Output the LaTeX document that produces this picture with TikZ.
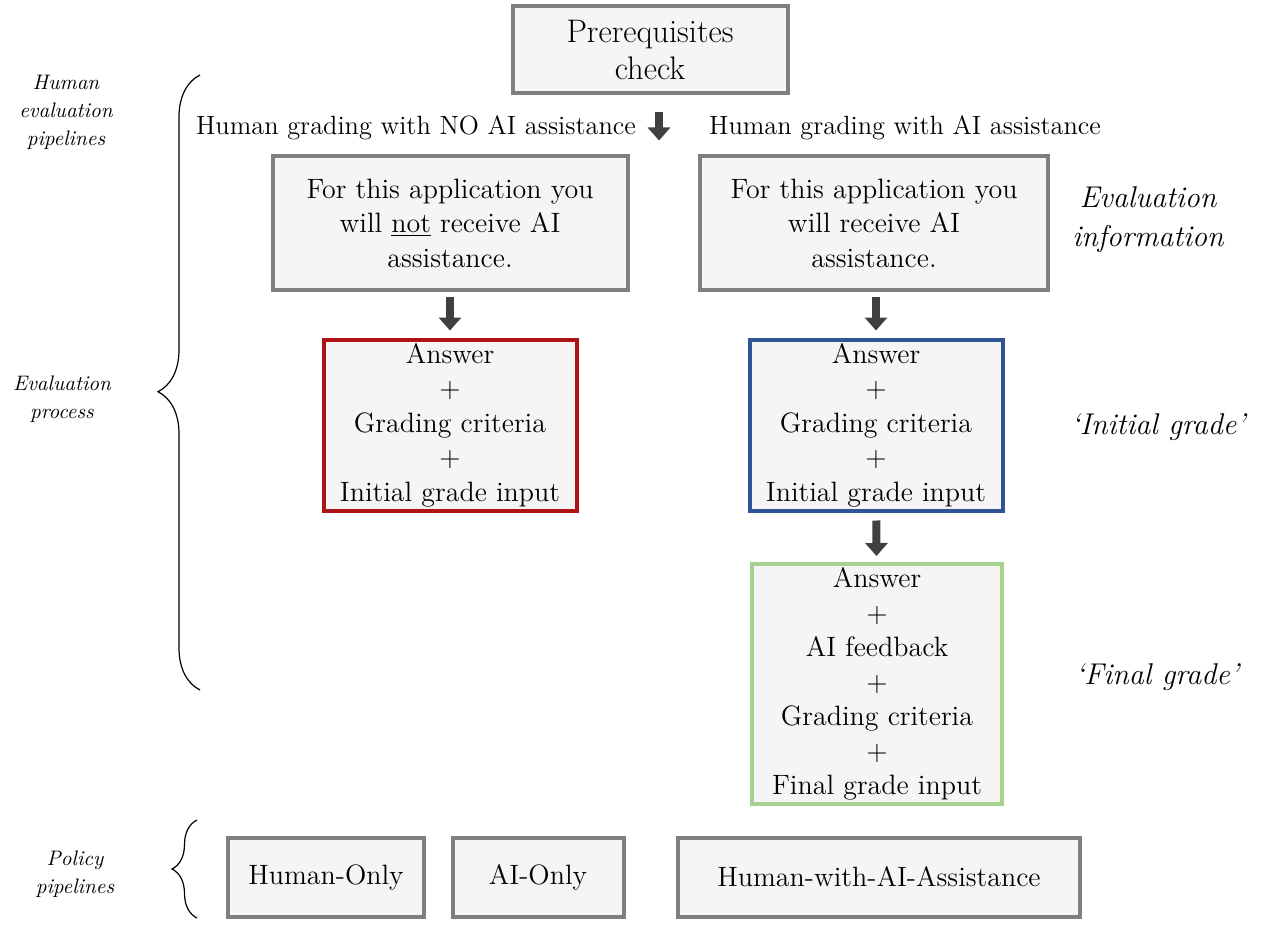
\documentclass[tikz,border=0pt]{standalone}
\usepackage{xcolor}
\usepackage{tikz}
\usetikzlibrary{positioning, arrows.meta, decorations.pathreplacing}
\definecolor{boxgray}{HTML}{7F7F7F}
\definecolor{boxfill}{HTML}{F5F5F5}
\definecolor{initred}{HTML}{AE1414}
\definecolor{initblue}{HTML}{2F5597}
\definecolor{finalgreen}{HTML}{A9D18E}
\definecolor{arrowgray}{HTML}{404040}

\tikzset{
  card/.style={draw=boxgray, fill=boxfill, line width=2pt, align=center,
               inner sep=0pt, font=\fontsize{14}{17.25}\selectfont},
  fatarrow/.style={draw=arrowgray, line width=4pt,
                   -{Triangle[width=11pt,length=6.5pt]}},
  armlabel/.style={font=\fontsize{13.2}{16}\selectfont},
  sidenote/.style={font=\itshape\fontsize{10.5}{14}\selectfont, align=center},
  stagenote/.style={font=\itshape\fontsize{15}{19.5}\selectfont, align=center},
  pipebrace/.style={decorate, line width=0.6pt},
}

\begin{document}
\begin{tikzpicture}[x=0.5pt, y=-0.5pt]
  \useasboundingbox (0,0) rectangle (1263,925);

  % top of the pipeline
  \node[card, minimum width=137.5pt, minimum height=43.5pt,
        font=\fontsize{16.3}{18.5}\selectfont] (prereq) at (650,50)
    {Prerequisites\\check};
  \node[armlabel] (nolabel) at (416,128) {Human grading with NO AI assistance};
  \node[armlabel] (ailabel) at (905,128) {Human grading with AI assistance};
  \draw[fatarrow] ([xshift=4.5pt,yshift=-8.5pt]prereq.south) -- ++(0,-14pt);

  % evaluation information
  \node[card, minimum width=177.5pt, minimum height=66.5pt] (noinfo) at (450,223)
    {For this application you\\will \underline{not} receive AI\\assistance.};
  \node[card, minimum width=174pt, minimum height=66.5pt] (aiinfo) at (874,223)
    {For this application you\\will receive AI\\assistance.};

  % grading steps
  \node[card, draw=initred, minimum width=126.5pt, minimum height=85.5pt] (noinit) at (450,425)
    {Answer\\+\\Grading criteria\\+\\Initial grade input};
  \node[card, draw=initblue, minimum width=126.5pt, minimum height=85.5pt] (aiinit) at (876,425)
    {Answer\\+\\Grading criteria\\+\\Initial grade input};
  \node[card, draw=finalgreen, minimum width=125pt, minimum height=120pt] (aifinal) at (877,684)
    {Answer\\+\\AI feedback\\+\\Grading criteria\\+\\Final grade input};

  \draw[fatarrow, shorten <=2.5pt, shorten >=3.5pt] (noinfo) -- (noinit);
  \draw[fatarrow, shorten <=2.5pt, shorten >=3.5pt] (aiinfo.south -| aiinit) -- (aiinit);
  \draw[fatarrow, shorten <=4pt, shorten >=3pt] (aiinit) -- (aifinal);

  % stage names on the right
  \node[stagenote] (infonote) at (1148,220) {Evaluation\\information};
  \node[stagenote] (initnote) at (1158,427) {`Initial grade'};
  \node[stagenote] (finalnote) at (1157,677) {`Final grade'};

  % policy pipelines
  \node[card, minimum width=98pt, minimum height=39.5pt] (humanonly) at (326,877) {Human-Only};
  \node[card, minimum width=85.5pt, minimum height=39.5pt] (aionly) at (538,877) {AI-Only};
  \node[card, minimum width=201pt, minimum height=39.5pt] (humanai) at (879,877) {Human-with-AI-Assistance};

  % braces and their notes
  \coordinate (evaltop) at (200,75);
  \coordinate (evalbot) at (200,690);
  \coordinate (poltop) at (197,820);
  \coordinate (polbot) at (197,918);
  \draw[pipebrace, decoration={brace, amplitude=21pt, aspect=0.485}] (evalbot) -- (evaltop);
  \draw[pipebrace, decoration={brace, amplitude=12.5pt}] (polbot) -- (poltop);
  \node[sidenote] (humannote) at (66,112) {Human\\evaluation\\pipelines};
  \node[sidenote] (processnote) at (62,399) {Evaluation\\process};
  \node[sidenote] (policynote) at (75,874) {Policy\\pipelines};
\end{tikzpicture}
\end{document}
